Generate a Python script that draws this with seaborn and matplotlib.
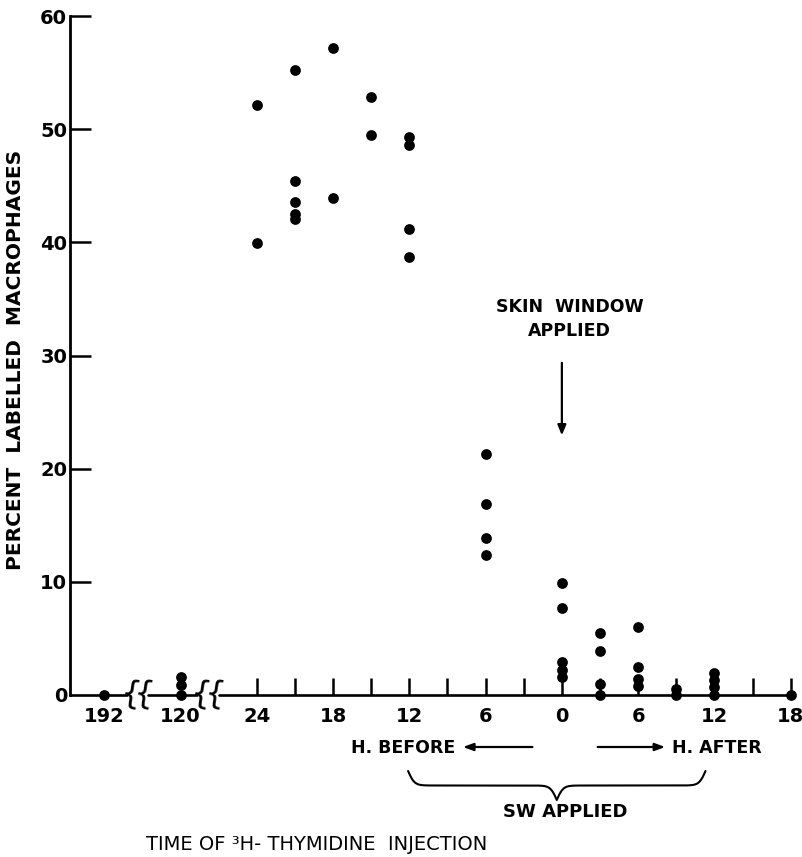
import numpy as np
import pandas as pd
import matplotlib
matplotlib.use("Agg")
import matplotlib.pyplot as plt
import seaborn as sns
from matplotlib.transforms import blended_transform_factory

# hours of 3H-thymidine injection relative to skin window (negative = before)
group_hours = [-192, -120, -24, -21, -18, -15, -12, -6, 0, 3, 6, 9, 12, 18]
group_values = [
    [0.0],
    [1.6, 0.9, 0.0],
    [52.1, 39.9],
    [55.2, 45.4, 43.6, 42.5, 42.1],
    [57.2, 43.9],
    [52.8, 49.5],
    [49.3, 48.6, 41.2, 38.7],
    [21.3, 16.9, 13.9, 12.4],
    [9.9, 7.7, 2.9, 2.2, 1.6],
    [5.5, 3.9, 1.0, 0.0],
    [6.0, 2.5, 1.4, 0.8],
    [0.5, 0.0],
    [1.9, 1.3, 0.7, 0.0],
    [0.0],
]
tick_hours = [-192, -120, -24, -18, -12, -6, 0, 6, 12, 18]
tick_labels = ["192", "120", "24", "18", "12", "6", "0", "6", "12", "18"]
minor_hours = [-21, -15, -9, -3, 3, 9, 15]
y_ticks = [0, 10, 20, 30, 40, 50, 60]

# broken axis: far-away hours get squeezed positions
break_pos = {-192: -36.0, -120: -30.0}


def to_pos(h):
    return break_pos.get(h, h)


rows = []
for h, vals in zip(group_hours, group_values):
    for v in vals:
        rows.append({"pos": to_pos(h), "pct": v})
df = pd.DataFrame(rows)

sns.set_style("ticks")
plt.rcParams["font.family"] = ["DejaVu Sans"]
plt.rcParams["text.color"] = "black"

W, H = 803, 857
fig = plt.figure(figsize=(W / 100, H / 100), dpi=100)
ax = fig.add_axes([70 / W, 1 - 695 / H, 727 / W, 679 / H])

sns.scatterplot(x="pos", y="pct", data=df, ax=ax, color="black", s=60,
                edgecolor="black", linewidth=0, clip_on=False, zorder=5)

ax.set_xlim(-38.7, 18.5)
ax.set_ylim(0, 60)
ax.set_xlabel("")
ax.set_ylabel("")

# axes styling
for s in ["top", "right", "bottom"]:
    ax.spines[s].set_visible(False)
ax.spines["left"].set_linewidth(2.0)
ax.spines["left"].set_color("black")

ax.set_yticks(y_ticks)
ax.set_yticklabels([str(t) for t in y_ticks], fontsize=14, fontweight="bold")
ax.tick_params(axis="y", direction="in", length=15, width=1.8, pad=2, colors="black")
ax.yaxis.get_major_ticks()[0].tick1line.set_visible(False)

ax.set_xticks([to_pos(h) for h in tick_hours])
ax.set_xticklabels(tick_labels, fontsize=14, fontweight="bold")
ax.set_xticks(minor_hours, minor=True)
ax.tick_params(axis="x", which="both", direction="in", length=12, width=1.8,
               pad=9, colors="black")
for t in ax.xaxis.get_major_ticks()[:2]:
    t.tick1line.set_visible(False)

# x axis line with break marks
for a, b in [(-38.7, -34.2), (-32.6, -28.7), (-27.0, 18.0)]:
    ax.plot([a, b], [0, 0], color="black", lw=1.9, clip_on=False, zorder=3)
for bx in [-33.9, -32.9, -28.4, -27.3]:
    ax.text(bx, 0, "{", fontsize=23, ha="center", va="center", rotation=-8,
            color="black")

# skin window annotation
ax.text(0.6, 33.2, "SKIN  WINDOW\nAPPLIED", ha="center", va="center",
        fontsize=12.5, fontweight="bold", linespacing=1.45)
ax.annotate("", xy=(0, 22.7), xytext=(0, 29.6),
            arrowprops=dict(arrowstyle="-|>,head_length=0.6,head_width=0.25",
                            color="black", lw=1.6))

# annotations below the axis
tr = blended_transform_factory(ax.transData, fig.transFigure)


def fy(p):
    return 1 - p / H


ax.text(-8.4, fy(748), "H. BEFORE", transform=tr, ha="right", va="center",
        fontsize=12.5, fontweight="bold")
ax.text(8.65, fy(748), "H. AFTER", transform=tr, ha="left", va="center",
        fontsize=12.5, fontweight="bold")
ax.annotate("", xy=(-8.0, fy(747)), xytext=(-2.1, fy(747)), xycoords=tr,
            textcoords=tr, annotation_clip=False,
            arrowprops=dict(arrowstyle="-|>,head_length=0.6,head_width=0.22",
                            color="black", lw=1.6))
ax.annotate("", xy=(8.35, fy(747)), xytext=(2.6, fy(747)), xycoords=tr,
            textcoords=tr, annotation_clip=False,
            arrowprops=dict(arrowstyle="-|>,head_length=0.6,head_width=0.22",
                            color="black", lw=1.6))

# curly brace under the "before/after" span
x0, x1, xm = -12.1, 11.3, -0.4
y_top, y_tip = fy(771), fy(800)
beta = 4.0
xl = np.linspace(x0, xm, 200)
ll = 1 / (1 + np.exp(-beta * (xl - x0))) + 1 / (1 + np.exp(-beta * (xl - xm)))
xr = np.linspace(xm, x1, 200)
lr = 1 / (1 + np.exp(beta * (xr - x1))) + 1 / (1 + np.exp(beta * (xr - xm)))
bx = np.concatenate([xl, xr])
by = y_top - (np.concatenate([ll, lr]) - 0.5) * (y_top - y_tip)
ax.plot(bx, by, color="black", lw=1.5, transform=tr, clip_on=False)

ax.text(0.3, fy(812), "SW APPLIED", transform=tr, ha="center", va="center",
        fontsize=13, fontweight="bold")

fig.text(317 / W, fy(845), "TIME OF \u00b3H- THYMIDINE  INJECTION", ha="center",
         va="center", fontsize=14)
fig.text(16 / W, fy(360), "PERCENT  LABELLED  MACROPHAGES", rotation=90,
         ha="center", va="center", fontsize=14.5, fontweight="bold")

fig.savefig("out.png", dpi=100)
